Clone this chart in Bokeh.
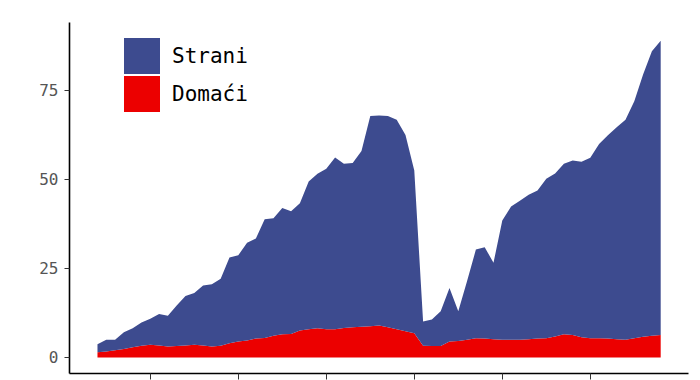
from bokeh.plotting import figure
from bokeh.models import ColumnDataSource, Legend, LegendItem, FixedTicker, Range1d
from bokeh.embed import file_html
from bokeh.resources import INLINE

years = list(range(1954, 2019))
domaci = [1.5, 1.7, 2.0, 2.4, 2.9, 3.3, 3.6, 3.4, 3.1, 3.2,
          3.4, 3.6, 3.4, 3.1, 3.3, 4.0, 4.5, 4.8, 5.3, 5.5,
          6.1, 6.5, 6.6, 7.6, 7.9, 8.2, 7.9, 7.9, 8.3, 8.5,
          8.6, 8.8, 9.0, 8.5, 7.9, 7.4, 6.8, 3.3, 3.2, 3.2,
          4.5, 4.6, 5.0, 5.4, 5.3, 5.1, 5.0, 5.0, 5.0, 5.1,
          5.3, 5.4, 5.9, 6.5, 6.3, 5.7, 5.4, 5.4, 5.3, 5.1,
          5.0, 5.4, 5.8, 6.1, 6.3]
strani = [2.2, 3.3, 3.0, 4.7, 5.3, 6.5, 7.3, 8.8, 8.6, 11.4,
          13.9, 14.5, 16.8, 17.5, 18.8, 24.1, 24.2, 27.4, 28.1, 33.3,
          33.0, 35.5, 34.5, 35.7, 41.5, 43.4, 45.1, 48.3, 46.1, 46.1,
          49.4, 59.0, 59.0, 59.3, 58.9, 55.1, 45.7, 6.8, 7.5, 9.8,
          15.0, 8.4, 16.5, 24.9, 25.7, 21.5, 33.5, 37.4, 39.0, 40.6,
          41.6, 44.8, 45.8, 47.9, 49.0, 49.3, 50.7, 54.6, 57.1, 59.6,
          61.8, 66.6, 73.7, 79.9, 82.7]
x_ticks = [1960, 1970, 1980, 1990, 2000, 2010]
y_ticks = [0, 25, 50, 75]
series_labels = ["Strani", "Domaći"]

BLUE = "#3d4b8f"
RED = "#ec0000"
FONT = "DejaVu Sans Mono"

src = ColumnDataSource(dict(year=years, domaci=domaci, strani=strani))

p = figure(width=698, height=380, output_backend="svg", toolbar_location=None,
           x_range=Range1d(1950.82, 2021.16), y_range=Range1d(-4.5, 94.1),
           min_border_left=69, min_border_right=10, min_border_top=22,
           min_border_bottom=7)
p.outline_line_color = None
p.xgrid.visible = False
p.ygrid.visible = False
p.background_fill_color = "white"

rs = p.varea_stack(["domaci", "strani"], x="year", color=[RED, BLUE], source=src)

# axes
p.yaxis.ticker = FixedTicker(ticks=y_ticks)
p.yaxis.minor_tick_line_color = None
p.yaxis.major_tick_in = 0
p.yaxis.major_tick_out = 5
p.yaxis.axis_line_width = 1.6
p.yaxis.axis_line_color = "black"
p.yaxis.major_tick_line_color = "#333333"
p.yaxis.major_label_text_font = FONT
p.yaxis.major_label_text_font_size = "16px"
p.yaxis.major_label_text_color = "#555555"
p.yaxis.major_label_standoff = 6

p.xaxis.ticker = FixedTicker(ticks=x_ticks)
p.xaxis.minor_tick_line_color = None
p.xaxis.major_tick_in = 0
p.xaxis.major_tick_out = 6
p.xaxis.axis_line_width = 1.6
p.xaxis.axis_line_color = "black"
p.xaxis.major_tick_line_color = "#333333"
p.xaxis.major_label_overrides = {t: "" for t in x_ticks}
p.xaxis.major_label_text_font_size = "0px"
p.xaxis.major_label_standoff = 0


def make_legend(label, renderer, loc):
    return Legend(items=[LegendItem(label=label, renderers=[renderer])],
                  location=loc, glyph_width=45, glyph_height=45, spacing=0,
                  padding=0, margin=0, label_standoff=8,
                  label_text_font=FONT, label_text_font_size="21px",
                  label_text_color="black",
                  border_line_color=None, background_fill_alpha=0)


p.add_layout(make_legend(series_labels[0], rs[1], (50, 295)))
p.add_layout(make_legend(series_labels[1], rs[0], (50, 257)))

open("out.html", "w").write(file_html(p, INLINE))
